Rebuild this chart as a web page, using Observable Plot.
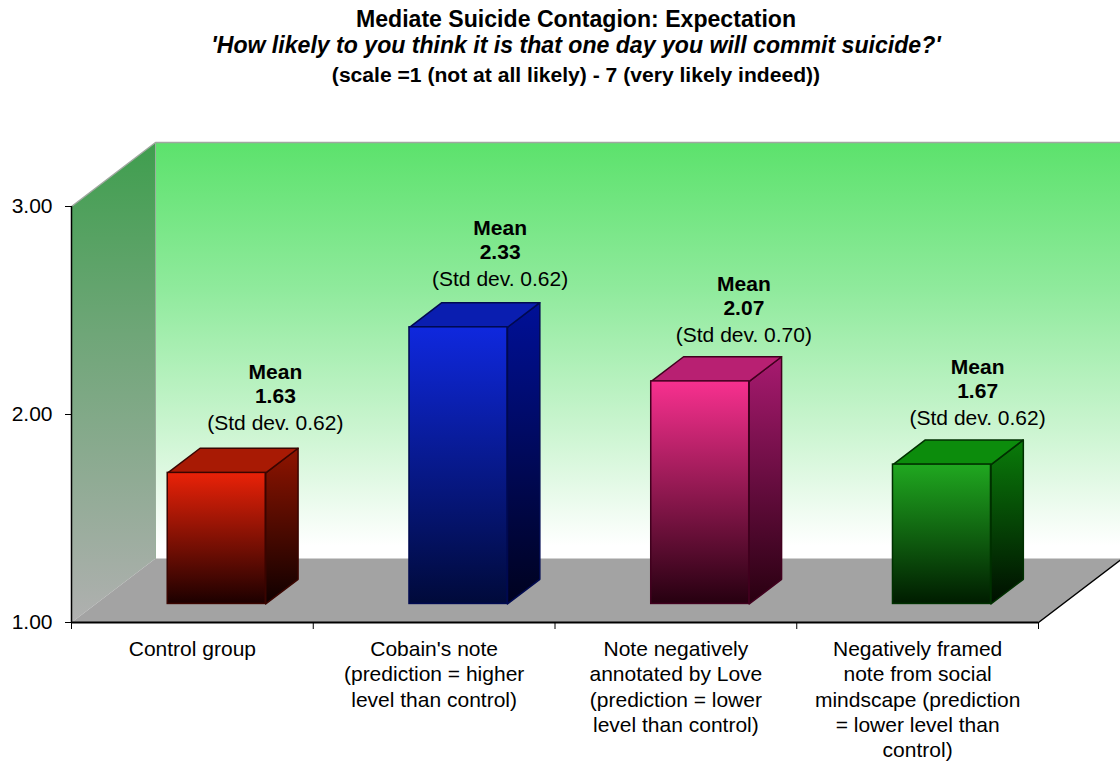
<!DOCTYPE html>
<html>
<head>
<meta charset="utf-8">
<script src="https://cdn.jsdelivr.net/npm/d3@7"></script>
<script src="https://cdn.jsdelivr.net/npm/@observablehq/plot@0.6"></script>
<style>
  html, body { margin: 0; padding: 0; background: #fff; overflow: hidden; }
  body { width: 1120px; height: 765px; font-family: "Liberation Sans", Arial, sans-serif; color: #000; }
  #head { height: 100px; box-sizing: border-box; padding: 6px 0 0 32px; text-align: center; font-weight: bold; font-size: 23.1px; }
  #head div { line-height: 27px; height: 26px; }
  #head .q { font-style: italic; height: 28.5px; }
  #head .s { font-size: 21.1px; }
  svg { display: block; }
</style>
</head>
<body>
<div id="head">
  <div>Mediate Suicide Contagion: Expectation</div>
  <div class="q">'How likely to you think it is that one day you will commit suicide?'</div>
  <div class="s">(scale =1 (not at all likely) - 7 (very likely indeed))</div>
</div>
<div id="chart"></div>
<script>
// Chart values
const categories = [
  "Control group",
  "Cobain's note\n(prediction = higher\nlevel than control)",
  "Note negatively\nannotated by Love\n(prediction = lower\nlevel than control)",
  "Negatively framed\nnote from social\nmindscape (prediction\n= lower level than\ncontrol)"
];
const means = [1.63, 2.33, 2.07, 1.67];
const stdDevs = [0.62, 0.62, 0.70, 0.62];
const yTicks = [1, 2, 3];

// Label nudges (pixels from the category centre at the bar's value)
const labelDx = [83, 66, 68, 60];
const labelDy = [-119, -118, -116, -116];

// Bar colours: [front top, front bottom, side top, side bottom, top face, edge]
const palettes = [
  ["#ea2208", "#1c0000", "#901400", "#0e0000", "#a81a04", "#3a0500"],
  ["#0f28de", "#000a3a", "#001098", "#00021e", "#0a1eb0", "#000a50"],
  ["#f8308f", "#260010", "#a81a70", "#280010", "#b82072", "#40001e"],
  ["#20a820", "#001c00", "#0a7c0a", "#000e00", "#0c8c0c", "#003000"]
];

// Oblique projection: one unit of depth, in x (categories) and y (value) units
const kx = 84 / 241.75, ky = 64 / 208;
const P = (x, y, d) => ({x: x + d * kx, y: y + d * ky});
const poly = (pts) => [...pts, pts[0]];

const barFront = 0.29, barDepth = 0.385, barHalf = 0.2027;
const yMin = yTicks[0], yMax = yTicks[yTicks.length - 1], n = categories.length;

const font = {fontFamily: "Liberation Sans, Arial, sans-serif", fontSize: 21};
const polyMark = (pts, fill, stroke, sw) =>
  Plot.line(poly(pts), {x: "x", y: "y", fill, stroke, strokeWidth: sw, curve: "linear", strokeLinejoin: "round"});

const wallMarks = [
  polyMark([P(0, yMin, 1), P(n, yMin, 1), P(n, yMax, 1), P(0, yMax, 1)], "url(#wallBack)", "none"),
  polyMark([P(0, yMin, 0), P(0, yMin, 1), P(0, yMax, 1), P(0, yMax, 0)], "url(#wallLeft)", "none"),
  polyMark([P(0, yMin, 0), P(n, yMin, 0), P(n, yMin, 1), P(0, yMin, 1)], "#a3a3a3", "none"),
  Plot.line([P(0, yMax, 0), P(0, yMax, 1), P(n, yMax, 1)], {x: "x", y: "y", stroke: "#a0a8a0", strokeWidth: 1.5}),
  Plot.line([P(0, yMax, 1), P(0, yMin, 1)], {x: "x", y: "y", stroke: "#9ab09c", strokeWidth: 1}),
  Plot.line([P(n, yMin, 0), P(n, yMin, 1)], {x: "x", y: "y", stroke: "#000", strokeWidth: 1.5})
];

const barMarks = means.flatMap((v, i) => {
  const a = i + 0.5 - barHalf, b = i + 0.5 + barHalf;
  const d0 = barFront, d1 = barFront + barDepth;
  const edge = palettes[i][5];
  return [
    polyMark([P(b, yMin, d0), P(b, yMin, d1), P(b, v, d1), P(b, v, d0)], `url(#side${i})`, edge, 1.5),
    polyMark([P(a, v, d0), P(b, v, d0), P(b, v, d1), P(a, v, d1)], palettes[i][4], edge, 1.5),
    Plot.rect([i], {
      x1: () => a + d0 * kx, x2: () => b + d0 * kx,
      y1: () => yMin + d0 * ky, y2: () => v + d0 * ky,
      fill: `url(#front${i})`, stroke: edge, strokeWidth: 1.5, inset: 0
    })
  ];
});

const labelMarks = means.flatMap((v, i) => {
  const at = {x: () => i + 0.5, y: () => v, dx: labelDx[i], textAnchor: "middle", fill: "#000", ...font};
  return [
    Plot.text([i], {...at, text: () => "Mean", dy: labelDy[i], fontWeight: "bold"}),
    Plot.text([i], {...at, text: () => v.toFixed(2), dy: labelDy[i] + 24, fontWeight: "bold"}),
    Plot.text([i], {...at, text: () => `(Std dev. ${stdDevs[i].toFixed(2)})`, dy: labelDy[i] + 51})
  ];
});

const plot = Plot.plot({
  width: 1120,
  height: 665,
  marginLeft: 71,
  marginRight: 82,
  marginTop: 106,
  marginBottom: 143,
  style: {background: "transparent", overflow: "visible", fontFamily: font.fontFamily},
  x: {type: "linear", domain: [0, n]},
  y: {type: "linear", domain: [yMin, yMax]},
  marks: [
    ...wallMarks,
    ...barMarks,
    Plot.ruleX([0], {y1: yMin, y2: yMax, stroke: "#000", strokeWidth: 1.5}),
    Plot.ruleY([yMin], {x1: 0, x2: n, stroke: "#000", strokeWidth: 2}),
    Plot.axisY({ticks: yTicks, tickFormat: d3.format(".2f"), tickSize: 6, tickPadding: 13, label: null, stroke: "#000", ...font}),
    Plot.axisX({ticks: d3.range(n + 1), tickFormat: () => "", tickSize: 7, label: null, stroke: "#000"}),
    Plot.text(categories, {
      x: (d, i) => i + 0.5, y: yMin, text: (d) => d,
      dy: 15.5, lineAnchor: "top", lineHeight: 1.205, textAnchor: "middle", fill: "#000", ...font
    }),
    ...labelMarks
  ]
});

// Gradients referenced by the marks
const defs = d3.select(plot).insert("defs", ":first-child");
const grad = (id, stops) => {
  const g = defs.append("linearGradient").attr("id", id)
    .attr("x1", 0).attr("y1", 0).attr("x2", 0).attr("y2", 1);
  stops.forEach(([o, c]) => g.append("stop").attr("offset", o).attr("stop-color", c));
};
grad("wallBack", [[0, "#5ce26c"], [0.35, "#8fea9c"], [0.7, "#cdf5d2"], [0.97, "#ffffff"], [1, "#ffffff"]]);
grad("wallLeft", [[0, "#3f9e4e"], [0.4, "#6fa678"], [1, "#b0b0b0"]]);
palettes.forEach((p, i) => {
  grad(`front${i}`, [[0, p[0]], [1, p[1]]]);
  grad(`side${i}`, [[0, p[2]], [1, p[3]]]);
});

document.getElementById("chart").append(plot);
</script>
</body>
</html>
